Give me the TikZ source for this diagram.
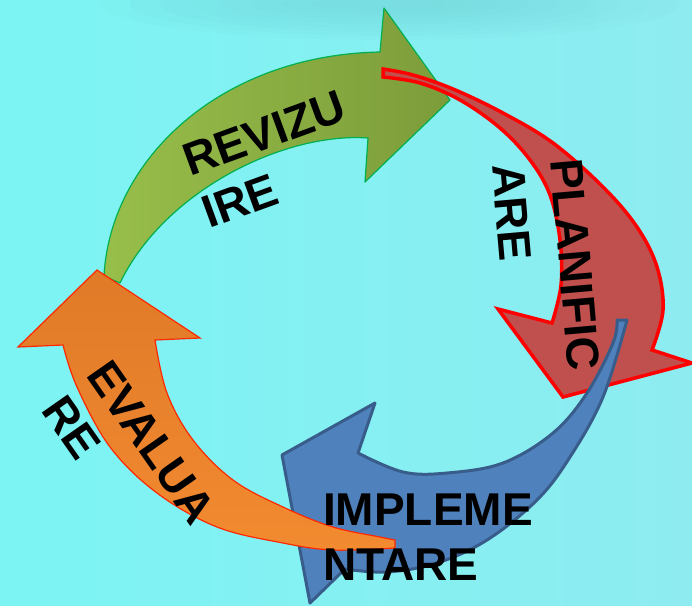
\documentclass[tikz,border=0pt]{standalone}
\usepackage{fontspec}
\setmainfont{Liberation Sans}
\definecolor{bgL}{RGB}{124,244,244}
\definecolor{bgR}{RGB}{142,236,240}
\definecolor{topc}{RGB}{105,195,200}
\definecolor{greenL}{RGB}{152,190,74}
\definecolor{greenR}{RGB}{124,156,58}
\definecolor{greenB}{RGB}{0,176,80}
\definecolor{redF}{RGB}{192,80,77}
\definecolor{redB}{RGB}{255,0,0}
\definecolor{blueF}{RGB}{79,129,189}
\definecolor{blueB}{RGB}{56,93,138}
\definecolor{orT}{RGB}{224,122,40}
\definecolor{orB}{RGB}{242,138,48}
\definecolor{orBd}{RGB}{255,40,0}
\begin{document}
\begin{tikzpicture}[x=1pt,y=-1pt,
  lbl/.style={font=\fontsize{46pt}{55pt}\selectfont\bfseries, inner sep=0pt, anchor=base west, text=black},
  sm/.style={smooth, tension=0.6}]
% background
\shade[left color=bgL, right color=bgR] (0,0) rectangle (692,605);
\useasboundingbox (0,0) rectangle (692,605);
\foreach \r in {1,...,8}
  \fill[topc, opacity=0.05] (390,4) ellipse ({50pt+30pt*\r} and {4pt+4pt*\r});
% green arrow (REVIZUIRE)
\path[draw=greenB, line width=1.2pt, left color=greenL, right color=greenR, line join=round]
  (104,276) .. controls (110,160) and (220,55) .. (380,52)
  -- (384,8) -- (450,100) -- (365,182) -- (368,138)
  .. controls (285,132) and (165,190) .. (120,283)
  -- cycle;
% red arrow (PLANIFICARE)
\path[draw=redB, line width=3.5pt, fill=redF, line join=miter]
  plot[sm] coordinates {(383,69) (413,75) (453,89) (503,113) (553,143) (603,187) (637,227) (657,267) (663,310) (652,350)}
  -- (692,363) -- (563,397) -- (498,309)
  -- plot[sm] coordinates {(552,323) (561,285) (560,240) (550,195) (530,160) (500,128) (460,100) (420,83) (383,77)}
  -- cycle;
% blue arrow (IMPLEMENTARE)
\path[draw=blueB, line width=3pt, fill=blueF, line join=round]
  plot[sm] coordinates {(627,320) (603,397) (570,457) (537,500) (487,540) (437,563) (387,572) (345,569)}
  -- (310,603) -- (282,455) -- (375,403)
  -- plot[sm] coordinates {(358,453) (403,472) (447,473) (503,463) (553,433) (587,393) (613,343) (617,320)}
  -- cycle;
% orange arrow (EVALUARE)
\path[draw=orBd, line width=1.2pt, top color=orT, bottom color=orB, line join=miter]
  (97,270) -- (200,338)
  -- plot[sm] coordinates {(155,340) (167,393) (193,440) (233,480) (283,507) (333,527) (380,537) (395,540)}
  -- plot[sm] coordinates {(395,548) (333,550) (283,543) (217,527) (157,493) (110,447) (77,387) (63,345)}
  -- (18,347) -- cycle;
% labels
\node[lbl, rotate=20] (rev1) at (190,177) {REVIZU};
\node[lbl, rotate=20] (rev2) at (209,229) {IRE};
\node[lbl, rotate=-85] (pla1) at (550,160) {PLANIFIC};
\node[lbl, rotate=-85] (pla2) at (492,165) {ARE};
\node[lbl] (imp1) at (323,525) {IMPLEME};
\node[lbl] (imp2) at (323,580) {NTARE};
\node[lbl, rotate=-55] (eva1) at (85,375) {EVALUA};
\node[lbl, rotate=-55] (eva2) at (40,410) {RE};
\end{tikzpicture}
\end{document}
